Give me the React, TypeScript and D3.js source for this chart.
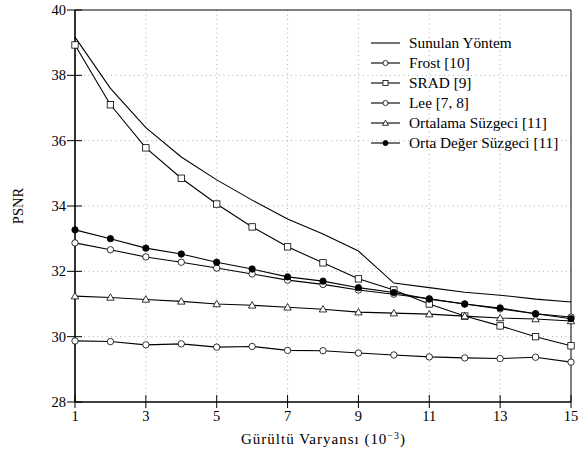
import React from "react";
import * as d3 from "d3";

// noise variance (x 10^-3)
const variances = [1, 2, 3, 4, 5, 6, 7, 8, 9, 10, 11, 12, 13, 14, 15];

const sunulan = [39.17, 37.6, 36.4, 35.5, 34.8, 34.18, 33.6, 33.14, 32.62, 31.64, 31.5, 31.36, 31.27, 31.15, 31.06];
const frost = [29.87, 29.85, 29.75, 29.78, 29.68, 29.7, 29.58, 29.57, 29.5, 29.44, 29.38, 29.35, 29.33, 29.37, 29.22];
const srad = [38.93, 37.1, 35.78, 34.85, 34.06, 33.36, 32.75, 32.26, 31.77, 31.43, 31.0, 30.63, 30.33, 30.0, 29.72];
const lee = [32.87, 32.66, 32.44, 32.28, 32.1, 31.92, 31.73, 31.6, 31.43, 31.3, 31.16, 31.0, 30.85, 30.7, 30.6];
const ortalama = [31.24, 31.2, 31.14, 31.08, 31.0, 30.96, 30.9, 30.84, 30.75, 30.72, 30.69, 30.63, 30.57, 30.54, 30.48];
const ortaDeger = [33.27, 33.0, 32.71, 32.53, 32.28, 32.07, 31.83, 31.7, 31.5, 31.35, 31.15, 31.0, 30.88, 30.7, 30.55];

const xTicks = [1, 3, 5, 7, 9, 11, 13, 15];
const yTicks = [28, 30, 32, 34, 36, 38, 40];

const seriesList = [
    { name: "Sunulan Yöntem", values: sunulan, marker: "none" },
    { name: "Frost [10]", values: frost, marker: "circle" },
    { name: "SRAD [9]", values: srad, marker: "square" },
    { name: "Lee [7, 8]", values: lee, marker: "circle" },
    { name: "Ortalama Süzgeci [11]", values: ortalama, marker: "triangle" },
    { name: "Orta Değer Süzgeci [11]", values: ortaDeger, marker: "dot" },
];

const FONT = '"Liberation Serif", "Times New Roman", Times, serif';

function Marker({ type, x, y, s = 1 }: { type: string; x: number; y: number; s?: number }) {
    if (type === "circle")
        return <circle cx={x} cy={y} r={3.2 * s} fill="white" stroke="black" strokeWidth={0.8} />;
    if (type === "dot")
        return <circle cx={x} cy={y} r={3.2 * s} fill="black" stroke="black" strokeWidth={0.8} />;
    if (type === "square")
        return <rect x={x - 3.2 * s} y={y - 3.2 * s} width={6.4 * s} height={6.4 * s} fill="white" stroke="black" strokeWidth={0.8} />;
    if (type === "triangle") {
        const p = d3.symbol().type(d3.symbolTriangle).size(24 * s * s)();
        return <path d={p || ""} transform={`translate(${x},${y + 0.6})`} fill="white" stroke="black" strokeWidth={0.8} />;
    }
    return null;
}

export default function App() {
    const width = 578;
    const height = 459;
    const left = 75;
    const right = 571;
    const top = 10;
    const bottom = 402;

    const x = d3.scaleLinear().domain([1, 15]).range([left, right]);
    const y = d3.scaleLinear().domain([28, 40]).range([bottom, top]);

    const line = d3
        .line<number>()
        .x((d, i) => x(variances[i]))
        .y((d) => y(d));

    return (
        <svg width={width} height={height} style={{ position: "absolute", left: 0, top: 0, fontFamily: FONT }}>
            <rect width={width} height={height} fill="white" />
            {/* grid */}
            {xTicks.slice(1, -1).map((t) => (
                <line key={"gx" + t} x1={x(t)} x2={x(t)} y1={top} y2={bottom} stroke="#999" strokeWidth={0.8} strokeDasharray="1,3.5" />
            ))}
            {yTicks.slice(1, -1).map((t) => (
                <line key={"gy" + t} x1={left} x2={right} y1={y(t)} y2={y(t)} stroke="#999" strokeWidth={0.8} strokeDasharray="1,3.5" />
            ))}
            {/* frame */}
            <line x1={left} x2={right} y1={top} y2={top} stroke="black" strokeWidth={1} />
            <line x1={right} x2={right} y1={top} y2={bottom} stroke="black" strokeWidth={1} />
            <line x1={left} x2={right} y1={bottom} y2={bottom} stroke="black" strokeWidth={1.6} />
            <line x1={left} x2={left} y1={top} y2={bottom} stroke="black" strokeWidth={1.6} />
            {/* ticks */}
            {yTicks.map((t) => (
                <g key={"ty" + t}>
                    <line x1={left - 8} x2={left + 7} y1={y(t)} y2={y(t)} stroke="black" strokeWidth={1} />
                    <text x={left - 9} y={y(t)} dy="0.35em" textAnchor="end" fontSize={14.5}>
                        {t}
                    </text>
                </g>
            ))}
            {xTicks.map((t) => (
                <g key={"tx" + t}>
                    <line x1={x(t)} x2={x(t)} y1={bottom - 7} y2={bottom + 6} stroke="black" strokeWidth={1} />
                    <text x={x(t)} y={bottom + 19} textAnchor="middle" fontSize={14.5}>
                        {t}
                    </text>
                </g>
            ))}
            {/* axis titles */}
            <text transform={`translate(23,${(top + bottom) / 2}) rotate(-90)`} textAnchor="middle" fontSize={14.5}>
                PSNR
            </text>
            <text x={241} y={444} fontSize={15} textLength={164} lengthAdjust="spacing">
                Gürültü Varyansı (10
                <tspan dy={-5} fontSize={10}>−3</tspan>
                <tspan dy={5}>)</tspan>
            </text>
            {/* series */}
            {seriesList.map((s) => (
                <g key={s.name}>
                    <path d={line(s.values) || ""} fill="none" stroke="black" strokeWidth={1.1} />
                    {s.values.map((v, i) => (
                        <Marker key={i} type={s.marker} x={x(variances[i])} y={y(v)} />
                    ))}
                </g>
            ))}
            {/* legend */}
            {seriesList.map((s, i) => {
                const ly = 43 + i * 20;
                return (
                    <g key={"lg" + s.name}>
                        <line x1={371} x2={400} y1={ly} y2={ly} stroke="black" strokeWidth={1.1} />
                        <Marker type={s.marker} x={385.5} y={ly} s={0.8} />
                        <text x={409} y={ly} dy="0.35em" fontSize={15.3}>
                            {s.name}
                        </text>
                    </g>
                );
            })}
        </svg>
    );
}
